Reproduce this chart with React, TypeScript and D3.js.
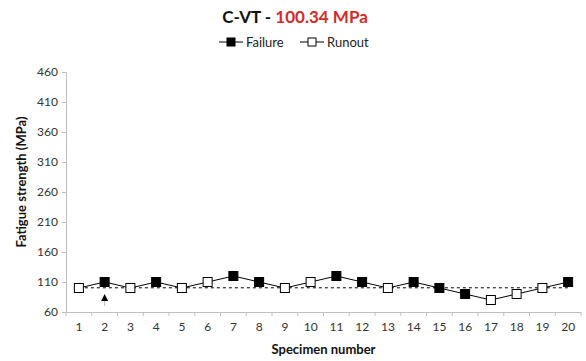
import React, { useEffect, useRef } from 'react';
import * as d3 from 'd3';

const specimens = d3.range(1, 21).map(String);
const strength = [100, 110, 100, 110, 100, 110, 120, 110, 100, 110, 120, 110, 100, 110, 100, 90, 80, 90, 100, 110];
const outcome = ['R', 'F', 'R', 'F', 'R', 'R', 'F', 'F', 'R', 'R', 'F', 'F', 'R', 'F', 'F', 'F', 'R', 'R', 'R', 'F'];
const yTicks = [60, 110, 160, 210, 260, 310, 360, 410, 460];
const meanStrength = 100.34;

const App: React.FC = () => {
  const svgRef = useRef<SVGSVGElement>(null);

  useEffect(() => {
    const svg = d3.select(svgRef.current);
    svg.selectAll('*').remove();

    const font = 'Lato, "Open Sans", sans-serif';
    const margin = { top: 72, left: 66, right: 5, bottom: 49 };
    const width = 586 - margin.left - margin.right;
    const height = 361 - margin.top - margin.bottom;

    const g = svg.append('g').attr('transform', `translate(${margin.left},${margin.top})`);

    const x = d3.scaleBand().domain(specimens).range([0, width]);
    const y = d3.scaleLinear().domain([60, 460]).range([height, 0]);
    const cx = (i: number) => x(specimens[i])! + x.bandwidth() / 2;

    // y axis
    const yAxis = g.append('g').call(d3.axisLeft(y).tickValues(yTicks).tickSize(4).tickPadding(4));
    yAxis.select('.domain').attr('stroke', '#bfbfbf');
    yAxis.selectAll('.tick line').attr('stroke', '#bfbfbf');
    yAxis.selectAll('.tick text').attr('font-family', font).attr('font-size', 12).attr('fill', '#333');

    // x axis
    const xAxis = g.append('g').attr('transform', `translate(0,${height})`)
      .call(d3.axisBottom(x).tickSize(0).tickPadding(10));
    xAxis.select('.domain').attr('stroke', '#bfbfbf');
    xAxis.selectAll('.tick text').attr('font-family', font).attr('font-size', 12).attr('fill', '#333');
    g.append('g').selectAll('line')
      .data(d3.range(0, specimens.length + 1))
      .enter().append('line')
      .attr('x1', d => d * x.bandwidth()).attr('x2', d => d * x.bandwidth())
      .attr('y1', height).attr('y2', height + 4)
      .attr('stroke', '#bfbfbf');

    // mean dashed line
    g.append('line')
      .attr('x1', cx(0)).attr('x2', cx(specimens.length - 1))
      .attr('y1', y(meanStrength)).attr('y2', y(meanStrength))
      .attr('stroke', '#000').attr('stroke-width', 1).attr('stroke-dasharray', '3,3');

    // series line
    const line = d3.line<number>().x((_, i) => cx(i)).y(d => y(d));
    g.append('path').datum(strength).attr('d', line).attr('fill', 'none').attr('stroke', '#000').attr('stroke-width', 1);

    const s = 9;
    g.selectAll('.pt')
      .data(strength)
      .enter().append('rect')
      .attr('class', 'pt')
      .attr('x', (_, i) => cx(i) - s / 2)
      .attr('y', d => y(d) - s / 2)
      .attr('width', s).attr('height', s)
      .attr('fill', (_, i) => (outcome[i] === 'F' ? '#000' : '#fff'))
      .attr('stroke', '#000').attr('stroke-width', 1);

    // arrow under specimen 2
    const ax = cx(1);
    const ay = y(strength[1]) + 12;
    g.append('line').attr('x1', ax).attr('x2', ax).attr('y1', ay + 6).attr('y2', ay + 12).attr('stroke', '#bbb');
    g.append('path')
      .attr('d', `M${ax},${ay} L${ax - 3.5},${ay + 7} L${ax + 3.5},${ay + 7} Z`)
      .attr('fill', '#000');

    // axis titles
    svg.append('text')
      .attr('x', margin.left + width / 2).attr('y', 354)
      .attr('text-anchor', 'middle').attr('font-family', font).attr('font-weight', 'bold')
      .attr('font-size', 13).attr('fill', '#111').text('Specimen number');
    svg.append('text')
      .attr('transform', `translate(26,${margin.top + height / 2 - 10}) rotate(-90)`)
      .attr('text-anchor', 'middle').attr('font-family', font).attr('font-weight', 'bold')
      .attr('font-size', 13).attr('fill', '#111').text('Fatigue strength (MPa)');

    // title
    const title = svg.append('text')
      .attr('x', 295).attr('y', 23)
      .attr('text-anchor', 'middle').attr('font-family', font).attr('font-weight', 'bold').attr('font-size', 17);
    title.append('tspan').attr('fill', '#111').text('C-VT - ');
    title.append('tspan').attr('fill', '#d42a2a').text(`${meanStrength.toFixed(2)} MPa`);

    // legend
    const legend = [
      { label: 'Failure', fill: '#000', x: 219 },
      { label: 'Runout', fill: '#fff', x: 300 },
    ];
    const lg = svg.append('g').selectAll('g').data(legend).enter().append('g')
      .attr('transform', d => `translate(${d.x},42)`);
    lg.append('line').attr('x1', 0).attr('x2', 24).attr('y1', 0).attr('y2', 0).attr('stroke', '#000');
    lg.append('rect').attr('x', 8).attr('y', -4).attr('width', 8).attr('height', 8)
      .attr('fill', d => d.fill).attr('stroke', '#000');
    lg.append('text').attr('x', 27).attr('y', 4.5)
      .attr('font-family', font).attr('font-size', 13).attr('fill', '#222').text(d => d.label);
  }, []);

  return <svg ref={svgRef} width={586} height={361} style={{ display: 'block', position: 'absolute', left: 0, top: 0, background: '#fff' }}></svg>;
};

export default App;
